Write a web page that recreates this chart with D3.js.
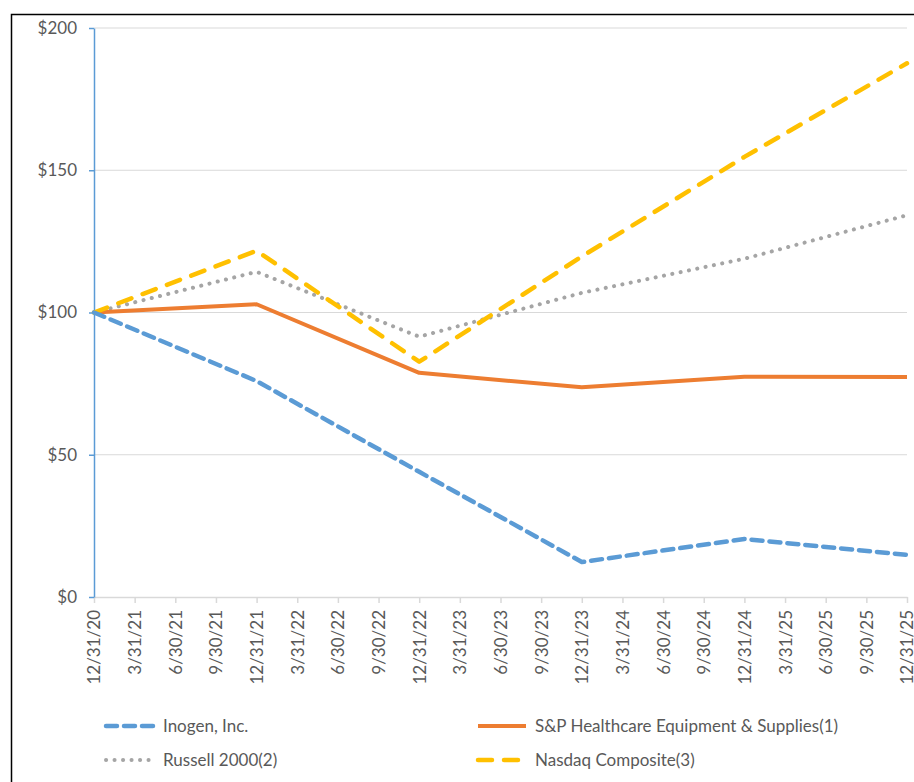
<!DOCTYPE html>
<html>
<head>
<meta charset="utf-8">
<script src="https://cdn.jsdelivr.net/npm/d3@7"></script>
<style>
  body { margin: 0; background: #fff; }
  svg { display: block; }
  text { font-family: Lato, "Open Sans", sans-serif; fill: #595959; }
</style>
</head>
<body>
<div id="chart"></div>
<script>
// quarter labels along the x axis
var quarters = ['12/31/20','3/31/21','6/30/21','9/30/21','12/31/21','3/31/22','6/30/22','9/30/22',
  '12/31/22','3/31/23','6/30/23','9/30/23','12/31/23','3/31/24','6/30/24','9/30/24',
  '12/31/24','3/31/25','6/30/25','9/30/25','12/31/25']

// yearly data points
var pointDates = ['12/31/20','12/31/21','12/31/22','12/31/23','12/31/24','12/31/25']
var inogen  = [100, 75.9, 44.0, 12.3, 20.4, 14.8]
var spHealth = [100, 102.9, 78.8, 73.7, 77.4, 77.3]
var russell = [100, 114.3, 91.5, 106.9, 118.9, 134.2]
var nasdaq  = [100, 121.7, 82.7, 119.7, 154.7, 187.6]

var yTicks = [0, 50, 100, 150, 200]

var W = 914, H = 782
var plot = {left: 94, right: 907, top: 28, bottom: 597}
var fontSize = '17px'

var svg = d3.select('#chart').append('svg')
    .attr('width', W)
    .attr('height', H)

// outer frame
svg.append('rect')
    .attr('x', 11.5).attr('y', 14.5)
    .attr('width', 920).attr('height', 800)
    .attr('fill', 'none').attr('stroke', '#000').attr('stroke-width', 1.5)

var x = d3.scalePoint().domain(quarters).range([plot.left, plot.right])
var y = d3.scaleLinear().domain([0, 200]).range([plot.bottom, plot.top])

// gridlines
svg.append('g').selectAll('line')
    .data(yTicks.filter(function(d) { return d > 0 }))
    .join('line')
    .attr('x1', plot.left).attr('x2', plot.right)
    .attr('y1', function(d) { return y(d) }).attr('y2', function(d) { return y(d) })
    .attr('stroke', '#d9d9d9').attr('stroke-width', 1)

// x axis
var xAxis = svg.append('g')
    .attr('transform', 'translate(0,' + plot.bottom + ')')
    .call(d3.axisBottom(x).tickSize(6).tickSizeOuter(0))
xAxis.select('.domain').attr('stroke', '#d9d9d9').attr('stroke-width', 1.5)
xAxis.selectAll('.tick line').attr('stroke', '#d9d9d9').attr('stroke-width', 1.5)
xAxis.selectAll('.tick text')
    .attr('transform', 'rotate(-90)')
    .attr('text-anchor', 'end')
    .attr('x', -13).attr('y', 0).attr('dy', '0.35em')
    .style('font-size', fontSize)
    .style('font-family', 'Lato, sans-serif')
    .attr('fill', '#595959')

// y axis
var yAxis = svg.append('g')
    .attr('transform', 'translate(' + plot.left + ',0)')
    .call(d3.axisLeft(y).tickValues(yTicks).tickSize(5).tickSizeOuter(0)
      .tickFormat(function(d) { return '$' + d }))
yAxis.select('.domain').attr('stroke', '#5b9bd5').attr('stroke-width', 1.5)
yAxis.selectAll('.tick line').attr('stroke', '#5b9bd5').attr('stroke-width', 1.5)
yAxis.selectAll('.tick text')
    .attr('x', -17)
    .style('font-size', fontSize)
    .style('font-family', 'Lato, sans-serif')
    .attr('fill', '#595959')

var series = [
  {name: 'Russell 2000(2)', values: russell, color: '#a5a5a5', dash: '0.1 8.4', width: 4},
  {name: 'S&P Healthcare Equipment & Supplies(1)', values: spHealth, color: '#ed7d31', dash: null, width: 4},
  {name: 'Nasdaq Composite(3)', values: nasdaq, color: '#ffc000', dash: '14 12', width: 4.5},
  {name: 'Inogen, Inc.', values: inogen, color: '#5b9bd5', dash: '11 7', width: 4.5}
]

var line = d3.line()
    .x(function(d, i) { return x(pointDates[i]) })
    .y(function(d) { return y(d) })

svg.append('g').selectAll('path')
    .data(series)
    .join('path')
    .attr('d', function(d) { return line(d.values) })
    .attr('fill', 'none')
    .attr('stroke', function(d) { return d.color })
    .attr('stroke-width', function(d) { return d.width })
    .attr('stroke-dasharray', function(d) { return d.dash })
    .attr('stroke-linecap', function(d) { return d.dash ? 'round' : 'butt' })
    .attr('stroke-linejoin', 'round')

// legend
var legendItems = [
  {s: series[3], x: 106, y: 726},
  {s: series[1], x: 478, y: 726},
  {s: series[0], x: 106, y: 760},
  {s: series[2], x: 478, y: 760}
]
var lg = svg.append('g').selectAll('g')
    .data(legendItems)
    .join('g')
    .attr('transform', function(d) { return 'translate(' + d.x + ',' + d.y + ')' })
lg.append('line')
    .attr('x1', 0).attr('x2', 48)
    .attr('stroke', function(d) { return d.s.color })
    .attr('stroke-width', function(d) { return d.s.width })
    .attr('stroke-dasharray', function(d) { return d.s.dash })
    .attr('stroke-linecap', function(d) { return d.s.dash ? 'round' : 'butt' })
lg.append('text')
    .attr('x', 57)
    .attr('dy', '0.35em')
    .style('font-size', fontSize)
    .text(function(d) { return d.s.name })
</script>
</body>
</html>
